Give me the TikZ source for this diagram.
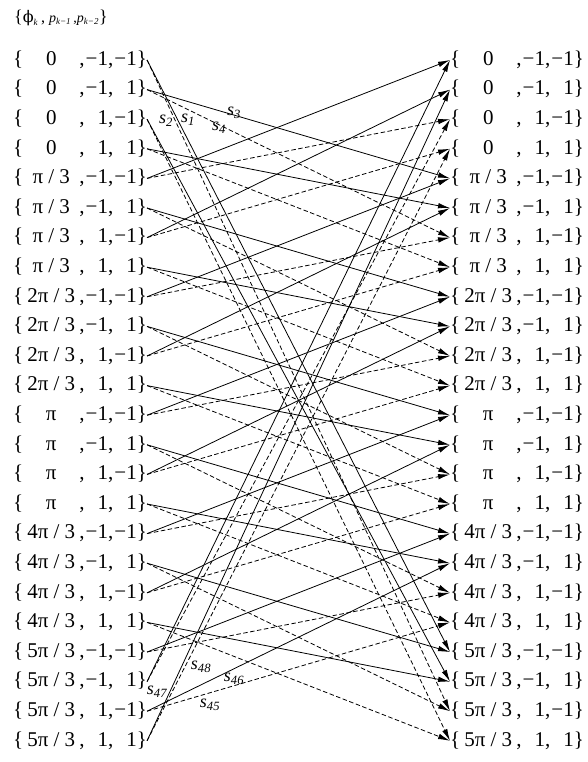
\documentclass[tikz,border=0pt]{standalone}
\usepackage{fontspec}
\setmainfont{Liberation Serif}
\newfontfamily\djv{DejaVu Serif}
\usetikzlibrary{arrows.meta}
\newcommand{\phasetxt}[1]{\ifcase#1 0\or π / 3\or 2π / 3\or π\or 4π / 3\or 5π / 3\fi}
\newcommand{\bitxt}[1]{\ifnum#1=0 −1\else 1\fi}
\newcommand{\statelab}[3]{\{\makebox[56pt][c]{\phasetxt{#1}},\makebox[23.5pt][r]{\bitxt{#2}},\makebox[23.5pt][r]{\bitxt{#3}}\}}
\tikzset{
  stnode/.style={inner sep=0pt, text height=14.3pt, text depth=3.8pt, font=\fontsize{21}{25}\selectfont, anchor=west},
  soltr/.style={line width=0.8pt, -{Latex[length=12pt,width=5.5pt]}},
  dshtr/.style={soltr, dash pattern=on 4.5pt off 2.5pt},
  slab/.style={font=\fontsize{18}{20}\selectfont\itshape, inner sep=0pt}
}
\begin{document}
\begin{tikzpicture}[x=1pt,y=-1pt]
\useasboundingbox (0,0) rectangle (588,762);
\node[anchor=west, inner sep=0pt] (hdr) at (14,18)
  {\fontsize{18}{20}\selectfont\{{\fontsize{16}{18}\selectfont{\djv ϕ}\textsubscript{\fontsize{9}{10}\selectfont\textit{k}}\,, \fontsize{14}{16}\selectfont\textit{p}\textsubscript{\fontsize{9}{10}\selectfont\textit{k−1}}\,,\textit{p}\textsubscript{\fontsize{9}{10}\selectfont\textit{k−2}}}\}};
\foreach \i in {0,...,23}{
  \pgfmathtruncatemacro\mm{div(\i,4)}
  \pgfmathtruncatemacro\pa{div(mod(\i,4),2)}
  \pgfmathtruncatemacro\pb{mod(\i,2)}
  \node[stnode] (L\i) at (13, 60+29.6*\i) {\statelab{\mm}{\pa}{\pb}};
  \node[stnode] (R\i) at (450, 60+29.6*\i) {\statelab{\mm}{\pa}{\pb}};
}
\foreach \i in {0,...,23}{
  \pgfmathtruncatemacro\mm{div(\i,4)}
  \pgfmathtruncatemacro\pa{div(mod(\i,4),2)}
  \pgfmathtruncatemacro\pb{mod(\i,2)}
  \pgfmathtruncatemacro\mn{mod(\mm+2*\pb-1+6,6)}
  \pgfmathtruncatemacro\ts{4*\mn+\pa}
  \pgfmathtruncatemacro\td{4*\mn+2+\pa}
  \draw[soltr] (L\i.east) -- (R\ts.west);
  \draw[dshtr] (L\i.east) -- (R\td.west);
}
\node[slab] (s1) at (188,120) {s\textsubscript{1}};
\node[slab] (s2) at (166,121) {s\textsubscript{2}};
\node[slab] (s3) at (234,113) {s\textsubscript{3}};
\node[slab] (s4) at (219,128) {s\textsubscript{4}};
\node[slab] (s45) at (210,705) {s\textsubscript{45}};
\node[slab] (s46) at (234,679) {s\textsubscript{46}};
\node[slab] (s47) at (157,692) {s\textsubscript{47}};
\node[slab] (s48) at (201,667) {s\textsubscript{48}};
\end{tikzpicture}
\end{document}
